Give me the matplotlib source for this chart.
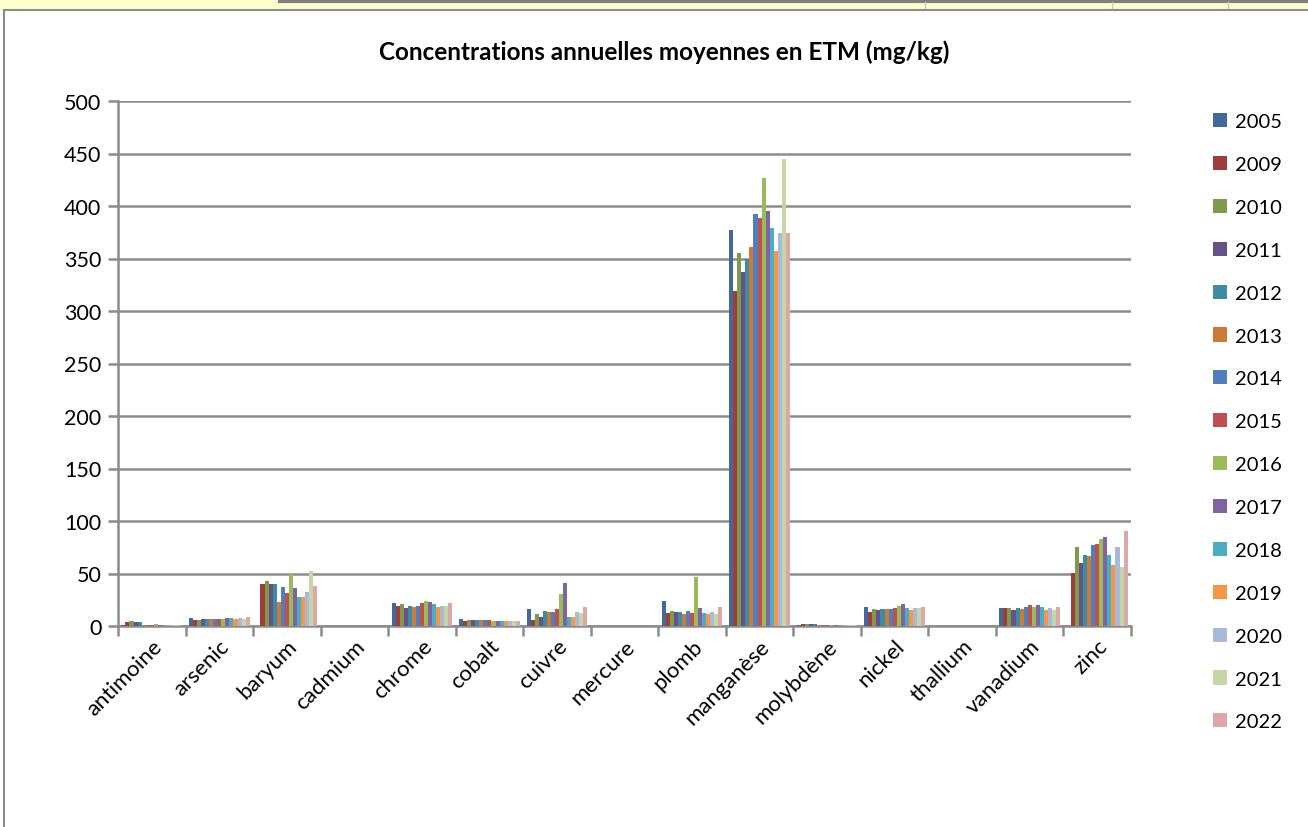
import numpy as np
import matplotlib.pyplot as plt
from matplotlib.patches import Rectangle, Patch
from matplotlib.lines import Line2D

plt.rcParams['font.family'] = ['Lato', 'DejaVu Sans']

elements = ["antimoine", "arsenic", "baryum", "cadmium", "chrome", "cobalt", "cuivre",
            "mercure", "plomb", "manganèse", "molybdène", "nickel", "thallium",
            "vanadium", "zinc"]
years = ["2005", "2009", "2010", "2011", "2012", "2013", "2014", "2015",
         "2016", "2017", "2018", "2019", "2020", "2021", "2022"]

# mean annual concentration per element, one value per year (mg/kg)
antimoine = [0.5, 3.5, 4.3, 3.8, 3.7, 0.5, 0.5, 0.5, 1.5, 1.2, 0.5, 0.5, 0.5, 0.5, 0.5]
arsenic = [7.3, 5.4, 5.7, 6.4, 6.4, 6.4, 6.4, 6.4, 6.7, 7.3, 7.3, 6.4, 8.0, 6.7, 8.3]
baryum = [np.nan, 40.0, 42.6, 39.7, 39.7, 23.2, 37.5, 31.8, 49.3, 36.6, 28.0, 27.3, 32.8, 52.8, 38.5]
cadmium = [0.3, 0.3, 0.3, 0.3, 0.4, 0.3, 0.3, 0.3, 0.3, 0.3, 0.3, 0.3, 0.3, 0.3, 0.3]
chrome = [21.6, 18.8, 20.7, 17.2, 19.4, 18.1, 19.4, 21.6, 23.5, 22.6, 21.3, 18.1, 19.4, 18.8, 21.6]
cobalt = [6.4, 4.8, 5.4, 5.4, 5.4, 5.4, 5.4, 5.4, 5.1, 5.1, 5.1, 4.5, 5.1, 5.1, 5.1]
cuivre = [15.9, 5.7, 11.1, 8.9, 14.0, 13.0, 13.0, 15.9, 30.8, 41.0, 8.6, 8.6, 13.0, 12.4, 18.4]
mercure = [0.1, 0.1, 0.1, 0.1, 0.1, 0.1, 0.1, 0.1, 0.1, 0.1, 0.1, 0.1, 0.1, 0.1, 0.1]
plomb = [23.8, 12.0, 14.5, 13.2, 13.4, 11.0, 14.5, 12.8, 46.5, 17.4, 12.8, 11.0, 13.8, 11.4, 18.0]
manganese = [377.0, 318.7, 355.0, 337.4, 350.0, 361.0, 392.3, 388.9, 426.7, 395.4, 378.7, 357.2,
             374.2, 444.4, 374.2]
molybdene = [0.5, 1.5, 1.6, 1.5, 1.6, 0.5, 0.5, 0.5, 0.5, 0.5, 0.5, 0.5, 0.5, 0.5, 0.5]
nickel = [18.4, 13.7, 16.5, 15.0, 16.5, 15.9, 16.5, 17.2, 18.8, 21.0, 16.8, 15.0, 17.2, 16.8, 18.1]
thallium = [0.4, 0.4, 0.4, 0.4, 0.4, 0.4, 0.4, 0.4, 0.4, 0.4, 0.4, 0.4, 0.4, 0.4, 0.4]
vanadium = [16.8, 16.8, 16.8, 15.0, 16.8, 15.9, 17.8, 20.0, 18.4, 19.7, 18.4, 15.0, 16.8, 15.3, 18.1]
zinc = [np.nan, 50.3, 74.8, 60.3, 67.3, 66.9, 76.7, 77.9, 82.8, 85.0, 67.3, 57.8, 75.3, 56.3, 90.5]

colors = ["#41699C", "#9E3D3A", "#7F9A48", "#67518A", "#3B8DA4", "#CB7A37", "#4F80BD",
          "#C0504D", "#9BBB59", "#8064A2", "#4BACC6", "#F79646", "#A9BAD8", "#C5D6A7",
          "#DBA8A7"]

values = np.array([antimoine, arsenic, baryum, cadmium, chrome, cobalt, cuivre, mercure,
                   plomb, manganese, molybdene, nickel, thallium, vanadium, zinc])

fig = plt.figure(figsize=(13.08, 8.28), dpi=100)

# spreadsheet strip above the chart box
fig.patches.append(Rectangle((0, 1 - 11 / 828), 1, 11 / 828, transform=fig.transFigure,
                             facecolor="#FFFFCC", edgecolor="none", zorder=0))
fig.lines.append(Line2D([280 / 1308, 1], [1 - 2 / 828, 1 - 2 / 828], transform=fig.transFigure,
                        color="#7F7F7F", lw=3))
for xs in [925, 1112, 1228]:
    fig.lines.append(Line2D([xs / 1308, xs / 1308], [1 - 9 / 828, 1 - 3 / 828],
                            transform=fig.transFigure, color="#C8C8C8", lw=1))
fig.patches.append(Rectangle((4 / 1308, -0.01), 1.0, 1 - 11 / 828 + 0.01,
                             transform=fig.transFigure, facecolor="white",
                             edgecolor="#8C8C8C", lw=1.5, zorder=1))

ax = fig.add_axes([118 / 1308, 1 - 627 / 828, (1131 - 118) / 1308, (627 - 102) / 828])
ax.set_zorder(2)
ax.patch.set_alpha(0)

x = np.arange(len(elements))
n = len(years)
w = 0.9 / n
for i, yr in enumerate(years):
    ax.bar(x - 0.45 + w * (i + 0.5), values[:, i], width=w, color=colors[i],
           label=yr, zorder=3)

ax.set_xlim(-0.5, len(elements) - 0.5)
ax.set_ylim(0, 500)
ax.set_yticks(np.arange(0, 501, 50))
ax.yaxis.grid(True, color="#8C8C8C", lw=1.8)
ax.set_axisbelow(True)
for s in ["top", "right"]:
    ax.spines[s].set_visible(False)
for s in ["left", "bottom"]:
    ax.spines[s].set_color("#8C8C8C")
    ax.spines[s].set_linewidth(1.8)

ax.set_xticks(x)
ax.set_xticklabels(elements, rotation=45, ha="right", rotation_mode="anchor", fontsize=16)
ax.tick_params(axis="x", length=0, pad=7)
ax.set_xticks(np.arange(-0.5, len(elements)), minor=True)
ax.tick_params(axis="x", which="minor", length=7, width=1.8, color="#8C8C8C")
ax.tick_params(axis="y", labelsize=15.5, length=7, width=1.8, color="#8C8C8C", pad=5)

fig.text(664 / 1308, 1 - 52 / 828, "Concentrations annuelles moyennes en ETM (mg/kg)",
         ha="center", va="center", fontsize=17.5, fontweight="bold", zorder=3)

handles = [Patch(facecolor=c, edgecolor="none") for c in colors]
fig.legend(handles, years, loc="upper left", bbox_to_anchor=(1205 / 1308, 1 - 106 / 828),
           frameon=False, fontsize=14.5, handlelength=0.7, handleheight=0.7,
           handletextpad=0.4, labelspacing=1.28, borderaxespad=0)

fig.savefig("out.png", dpi=100)
